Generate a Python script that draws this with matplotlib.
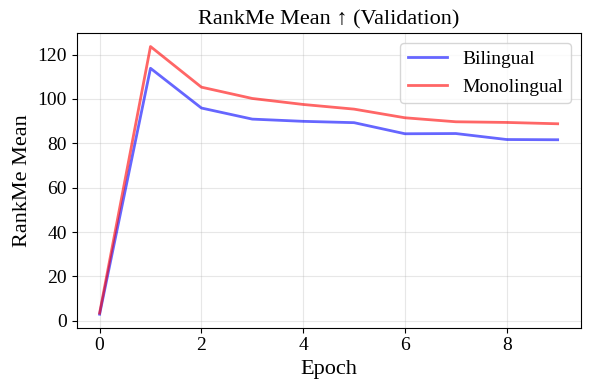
import matplotlib
matplotlib.use("Agg")
import matplotlib.pyplot as plt

epochs = [0, 1, 2, 3, 4, 5, 6, 7, 8, 9]
bilingual = [3.0, 113.8, 95.9, 90.9, 89.9, 89.3, 84.3, 84.4, 81.7, 81.6]
monolingual = [3.5, 123.6, 105.3, 100.2, 97.5, 95.4, 91.5, 89.7, 89.4, 88.8]

plt.rcParams["font.family"] = ["Liberation Serif", "DejaVu Serif"]

fig, ax = plt.subplots(figsize=(5.9, 3.9), dpi=100)
ax.plot(epochs, bilingual, color="blue", alpha=0.6, lw=2, label="Bilingual")
ax.plot(epochs, monolingual, color="red", alpha=0.6, lw=2, label="Monolingual")
ax.set_title("RankMe Mean \u2191 (Validation)", fontsize=16)
ax.set_xlabel("Epoch", fontsize=16)
ax.set_ylabel("RankMe Mean", fontsize=16)
ax.tick_params(labelsize=14)
ax.grid(True, alpha=0.3)
ax.legend(fontsize=14, loc="upper right")
fig.subplots_adjust(left=0.130, right=0.984, top=0.915, bottom=0.160)
fig.savefig("out.png", dpi=100)
